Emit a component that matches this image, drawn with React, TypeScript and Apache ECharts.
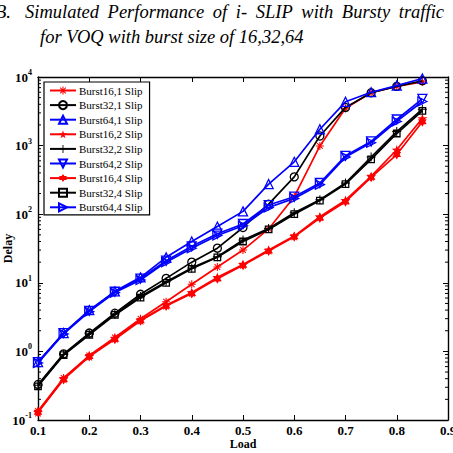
import { useEffect, useRef } from "react";
import * as echarts from "echarts";

// Offered load on the x axis
const loads = [0.1, 0.15, 0.2, 0.25, 0.3, 0.35, 0.4, 0.45, 0.5, 0.55, 0.6, 0.65, 0.7, 0.75, 0.8, 0.85];

// Mean delay per scheme (cells)
const burst16_1 = [0.135, 0.41, 0.87, 1.6, 3.0, 5.3, 9.5, 17, 30, 61, 180, 990, 3500, 5900, 7300, 8500];
const burst32_1 = [0.33, 0.92, 1.85, 3.6, 6.8, 11.6, 20, 32, 64, 140, 350, 1380, 3600, 5900, 7300, 8800];
const burst64_1 = [0.7, 1.85, 4.0, 7.5, 12, 23.5, 40, 66, 110, 275, 580, 1730, 4350, 6000, 7500, 9500];
const burst16_2 = [0.13, 0.4, 0.85, 1.55, 2.85, 4.7, 7.2, 12, 18.5, 30, 48, 92, 160, 355, 870, 2500];
const burst32_2 = [0.32, 0.9, 1.8, 3.5, 6.3, 10.4, 16.5, 24, 42, 62, 105, 162, 285, 680, 1600, 3400];
const burst64_2 = [0.7, 1.85, 3.9, 7.4, 11.5, 21, 34, 52, 72, 136, 180, 285, 710, 1150, 2400, 4800];
const burst16_4 = [0.13, 0.39, 0.84, 1.5, 2.8, 4.6, 7.0, 11.5, 18, 29, 47, 88, 152, 345, 740, 2230];
const burst32_4 = [0.31, 0.88, 1.75, 3.4, 6.1, 10, 16, 23.5, 40, 60, 100, 158, 275, 630, 1500, 3200];
const burst64_4 = [0.68, 1.8, 3.8, 7.2, 11, 20, 32, 49, 68, 125, 170, 270, 680, 1100, 2250, 4400];

// Axis ranges and tick labels
const xMin = 0.1;
const xMax = 0.9;
const xStep = 0.1;
const yExponents = [-1, 0, 1, 2, 3, 4];

// Caption (first line is justified, so it is set word by word)
const titleNumber = "B.";
const titleLine1Words = ["Simulated", "Performance", "of", "i-", "SLIP", "with", "Bursty", "traffic"];
const titleLine2 = "for VOQ with burst size of 16,32,64";

const RED = "#ff0000";
const BLACK = "#000000";
const BLUE = "#0000ff";

// Marker outlines built as filled paths
function starPath(points: number, outer: number, inner: number): string {
  const pts: string[] = [];
  for (let i = 0; i < points * 2; i++) {
    const r = i % 2 === 0 ? outer : inner;
    const a = -Math.PI / 2 + (i * Math.PI) / points;
    pts.push(`${(r * Math.cos(a)).toFixed(3)},${(r * Math.sin(a)).toFixed(3)}`);
  }
  return "path://M" + pts.join(" L") + " Z";
}

function barsPath(angles: number[], half: number, w: number): string {
  let d = "";
  for (const deg of angles) {
    const a = (deg * Math.PI) / 180;
    const c = Math.cos(a);
    const s = Math.sin(a);
    const corners = [
      [-half, -w],
      [half, -w],
      [half, w],
      [-half, w],
    ].map(([x, y]) => `${(x * c - y * s).toFixed(3)},${(x * s + y * c).toFixed(3)}`);
    d += "M" + corners.join(" L") + " Z ";
  }
  return "path://" + d.trim();
}

const asteriskSymbol = barsPath([0, 45, 90, 135], 10, 1.3);
const plusSymbol = barsPath([0, 90], 10, 1.1);
const pentagramSymbol = starPath(5, 10, 3.9);
const hexagramSymbol = starPath(6, 10, 5.8);

type Def = {
  name: string;
  values: number[];
  color: string;
  symbol: string;
  size: number;
  rotate?: number;
  filled: boolean;
};

const defs: Def[] = [
  { name: "Burst16,1 Slip", values: burst16_1, color: RED, symbol: asteriskSymbol, size: 8, filled: true },
  { name: "Burst32,1 Slip", values: burst32_1, color: BLACK, symbol: "circle", size: 8, filled: false },
  { name: "Burst64,1 Slip", values: burst64_1, color: BLUE, symbol: "triangle", size: 9, filled: false },
  { name: "Burst16,2 Slip", values: burst16_2, color: RED, symbol: pentagramSymbol, size: 10, filled: true },
  { name: "Burst32,2 Slip", values: burst32_2, color: BLACK, symbol: plusSymbol, size: 9, filled: true },
  { name: "Burst64,2 Slip", values: burst64_2, color: BLUE, symbol: "triangle", size: 9, rotate: 180, filled: false },
  { name: "Burst16,4 Slip", values: burst16_4, color: RED, symbol: hexagramSymbol, size: 10, filled: true },
  { name: "Burst32,4 Slip", values: burst32_4, color: BLACK, symbol: "rect", size: 6.5, filled: false },
  { name: "Burst64,4 Slip", values: burst64_4, color: BLUE, symbol: "triangle", size: 9, rotate: -90, filled: false },
];

// Log minor tick positions (2..9 per decade)
const minorTicks: number[][] = [];
for (let e = yExponents[0]; e < yExponents[yExponents.length - 1]; e++) {
  for (let m = 2; m <= 9; m++) minorTicks.push([xMin, m * Math.pow(10, e)]);
}

const SERIF = "Liberation Serif";
const CAPTION_SIZE = 18.5;
const CAPTION_FONT = `italic ${CAPTION_SIZE}px "Liberation Serif"`;

// Spread the words of a line evenly between two x positions
function justify(words: string[], left: number, right: number): number[] {
  const ctx = document.createElement("canvas").getContext("2d");
  const widths = words.map((w) => {
    if (!ctx) return w.length * 8;
    ctx.font = CAPTION_FONT;
    return ctx.measureText(w).width;
  });
  const total = widths.reduce((a, b) => a + b, 0);
  const gap = (right - left - total) / (words.length - 1);
  const xs: number[] = [];
  let x = left;
  for (const w of widths) {
    xs.push(x);
    x += w + gap;
  }
  return xs;
}

export default function App() {
  const ref = useRef<HTMLDivElement>(null);

  useEffect(() => {
    if (!ref.current) return;
    const chart = echarts.init(ref.current, undefined, { renderer: "svg" });

    const lineSeries = defs.map((d, i) => ({
      name: d.name,
      type: "line",
      data: loads.map((x, k) => [x, d.values[k]]),
      symbol: d.symbol,
      symbolSize: d.size,
      symbolKeepAspect: true,
      symbolRotate: d.rotate ?? 0,
      showSymbol: true,
      lineStyle: { color: d.color, width: 1.7 },
      itemStyle: d.filled
        ? { color: d.color, borderWidth: 0 }
        : { color: "rgba(0,0,0,0)", borderColor: d.color, borderWidth: 1.3 },
      emphasis: { disabled: true },
      z: 2 + i * 0.01,
    }));

    const yLabel = (v: number) => {
      const e = Math.round(Math.log10(v));
      return `{b|10}{s|${e}}`;
    };

    const titleStyle = {
      fontFamily: SERIF,
      fontStyle: "italic",
      fontSize: CAPTION_SIZE,
      fill: "#000",
      verticalAlign: "top",
    };

    const wordX = justify(titleLine1Words, 25, 444);
    const captionWords = titleLine1Words.map((w, i) => ({
      type: "text",
      x: wordX[i],
      y: 2,
      style: { ...titleStyle, text: w },
    }));

    chart.setOption({
      animation: false,
      backgroundColor: "#ffffff",
      textStyle: { fontFamily: SERIF },
      grid: { left: 38, right: 5, top: 77, bottom: 33, outerBoundsMode: "none", containLabel: false },
      graphic: [
        { type: "text", x: -5, y: 2, style: { ...titleStyle, text: titleNumber } },
        ...captionWords,
        { type: "text", x: 40, y: 27, style: { ...titleStyle, text: titleLine2 } },
      ],
      legend: {
        orient: "vertical",
        left: 44,
        top: 82,
        itemWidth: 26,
        itemHeight: 10,
        itemGap: 3.6,
        padding: [3, 7, 2, 5],
        backgroundColor: "#ffffff",
        borderColor: "#000000",
        borderWidth: 1.2,
        borderRadius: 0,
        selectedMode: false,
        textStyle: { fontFamily: SERIF, fontSize: 11, color: "#000", padding: [0, 0, 0, -2] },
        data: defs.map((d) => d.name),
      },
      xAxis: [
        {
          type: "value",
          min: xMin,
          max: xMax,
          interval: xStep,
          name: "Load",
          nameLocation: "middle",
          nameGap: 18,
          nameMoveOverlap: false,
          nameTextStyle: { fontFamily: SERIF, fontSize: 12, fontWeight: "bold", color: "#000" },
          axisLine: { show: true, lineStyle: { color: "#000", width: 1.4 } },
          axisTick: { show: true, inside: true, length: 5, lineStyle: { color: "#000", width: 1 } },
          axisLabel: {
            margin: 4,
            fontFamily: SERIF,
            fontSize: 13,
            fontWeight: "bold",
            color: "#000",
            formatter: (v: number) => v.toFixed(1),
          },
          splitLine: { show: false },
        },
        {
          type: "value",
          position: "top",
          min: xMin,
          max: xMax,
          interval: xStep,
          axisLine: { show: true, lineStyle: { color: "#000", width: 1.4 } },
          axisTick: { show: true, inside: true, length: 5, lineStyle: { color: "#000", width: 1 } },
          axisLabel: { show: false },
          splitLine: { show: false },
        },
      ],
      yAxis: [
        {
          type: "log",
          logBase: 10,
          min: Math.pow(10, yExponents[0]),
          max: Math.pow(10, yExponents[yExponents.length - 1]),
          name: "Delay",
          nameLocation: "middle",
          nameGap: 24,
          nameRotate: 90,
          nameMoveOverlap: false,
          nameTextStyle: { fontFamily: SERIF, fontSize: 12, fontWeight: "bold", color: "#000" },
          axisLine: { show: true, lineStyle: { color: "#000", width: 1.4 } },
          axisTick: { show: true, inside: true, length: 5, lineStyle: { color: "#000", width: 1 } },
          axisLabel: {
            margin: 6,
            color: "#000",
            fontFamily: SERIF,
            formatter: yLabel,
            rich: {
              b: { fontFamily: SERIF, fontSize: 13, fontWeight: "bold", color: "#000" },
              s: { fontFamily: SERIF, fontSize: 8, fontWeight: "bold", color: "#000", padding: [0, 0, 9, 0] },
            },
          },
          splitLine: { show: false },
        },
        {
          type: "log",
          logBase: 10,
          position: "right",
          min: Math.pow(10, yExponents[0]),
          max: Math.pow(10, yExponents[yExponents.length - 1]),
          axisLine: { show: true, lineStyle: { color: "#000", width: 1.4 } },
          axisTick: { show: true, inside: true, length: 5, lineStyle: { color: "#000", width: 1 } },
          axisLabel: { show: false },
          splitLine: { show: false },
        },
      ],
      series: [
        {
          type: "custom",
          name: "minor",
          silent: true,
          xAxisIndex: 0,
          yAxisIndex: 0,
          data: minorTicks,
          z: 1,
          renderItem: (_params: any, api: any) => {
            const v = api.value(1);
            const l = api.coord([xMin, v]);
            const r = api.coord([xMax, v]);
            const st = { stroke: "#000", lineWidth: 1 };
            return {
              type: "group",
              children: [
                { type: "line", shape: { x1: l[0], y1: l[1], x2: l[0] + 3, y2: l[1] }, style: st },
                { type: "line", shape: { x1: r[0] - 3, y1: r[1], x2: r[0], y2: r[1] }, style: st },
              ],
            };
          },
        },
        ...lineSeries,
      ],
    });

    return () => chart.dispose();
  }, []);

  return (
    <div
      ref={ref}
      style={{ position: "fixed", left: 0, top: 0, width: 453, height: 453, background: "#fff" }}
    />
  );
}
